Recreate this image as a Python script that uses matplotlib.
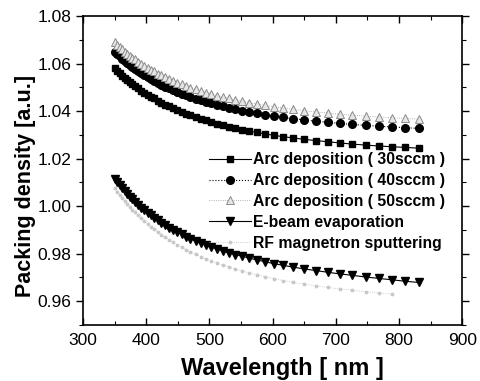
import matplotlib
matplotlib.use("Agg")
import matplotlib.pyplot as plt
from matplotlib.ticker import MultipleLocator

plt.rcParams['font.family'] = ['Liberation Sans', 'DejaVu Sans']

# wavelength grid (nm)
wavelength = [350, 354, 358, 362, 366, 370, 374, 378, 382, 387, 392, 397, 402, 407,
              412, 418, 424, 430, 436, 442, 449, 456, 463, 470, 478, 486, 494, 503,
              512, 521, 531, 541, 552, 563, 575, 588, 602, 617, 633, 650, 668, 687,
              706, 726, 747, 768, 789, 810, 831]

arc_30 = [1.0580, 1.0569, 1.0559, 1.0549, 1.0540, 1.0531, 1.0522, 1.0514, 1.0505,
          1.0496, 1.0486, 1.0477, 1.0469, 1.0461, 1.0453, 1.0444, 1.0435, 1.0427,
          1.0420, 1.0412, 1.0404, 1.0396, 1.0389, 1.0382, 1.0374, 1.0367, 1.0361,
          1.0354, 1.0347, 1.0341, 1.0334, 1.0328, 1.0322, 1.0316, 1.0310, 1.0304,
          1.0298, 1.0292, 1.0287, 1.0281, 1.0276, 1.0271, 1.0266, 1.0261, 1.0257,
          1.0253, 1.0250, 1.0247, 1.0244]

arc_40 = [1.0650, 1.0640, 1.0630, 1.0621, 1.0611, 1.0603, 1.0594, 1.0586, 1.0578,
          1.0569, 1.0560, 1.0551, 1.0543, 1.0535, 1.0528, 1.0519, 1.0511, 1.0503,
          1.0496, 1.0489, 1.0481, 1.0473, 1.0466, 1.0460, 1.0452, 1.0446, 1.0439,
          1.0432, 1.0426, 1.0420, 1.0414, 1.0408, 1.0402, 1.0396, 1.0390, 1.0385,
          1.0379, 1.0373, 1.0368, 1.0363, 1.0357, 1.0353, 1.0348, 1.0344, 1.0340,
          1.0336, 1.0333, 1.0330, 1.0327]

arc_50 = [1.0689, 1.0679, 1.0669, 1.0660, 1.0650, 1.0642, 1.0633, 1.0625, 1.0617,
          1.0608, 1.0599, 1.0590, 1.0582, 1.0574, 1.0567, 1.0558, 1.0550, 1.0542,
          1.0535, 1.0528, 1.0520, 1.0512, 1.0505, 1.0499, 1.0491, 1.0485, 1.0478,
          1.0471, 1.0465, 1.0459, 1.0453, 1.0447, 1.0441, 1.0435, 1.0429, 1.0424,
          1.0418, 1.0412, 1.0407, 1.0402, 1.0396, 1.0392, 1.0387, 1.0383, 1.0379,
          1.0375, 1.0372, 1.0369, 1.0366]

ebeam = [1.0115, 1.0101, 1.0088, 1.0075, 1.0063, 1.0051, 1.0040, 1.0029, 1.0018,
         1.0006, 0.9994, 0.9983, 0.9972, 0.9962, 0.9952, 0.9940, 0.9930, 0.9920,
         0.9910, 0.9901, 0.9891, 0.9881, 0.9872, 0.9863, 0.9854, 0.9845, 0.9837,
         0.9828, 0.9820, 0.9812, 0.9804, 0.9796, 0.9789, 0.9781, 0.9774, 0.9766,
         0.9758, 0.9751, 0.9743, 0.9736, 0.9729, 0.9722, 0.9715, 0.9709, 0.9702,
         0.9696, 0.9690, 0.9684, 0.9679]

rf_sputter = [1.0075, 1.0061, 1.0047, 1.0034, 1.0021, 1.0009, 0.9997, 0.9985, 0.9974,
              0.9961, 0.9949, 0.9937, 0.9925, 0.9914, 0.9904, 0.9891, 0.9880, 0.9869,
              0.9859, 0.9849, 0.9838, 0.9827, 0.9817, 0.9808, 0.9798, 0.9788, 0.9779,
              0.9770, 0.9761, 0.9752, 0.9744, 0.9735, 0.9727, 0.9719, 0.9711, 0.9703,
              0.9695, 0.9687, 0.9679, 0.9672, 0.9665, 0.9658, 0.9652, 0.9646, 0.9640,
              0.9635, 0.9630]

labels = ["Arc deposition ( 30sccm )", "Arc deposition ( 40sccm )",
          "Arc deposition ( 50sccm )", "E-beam evaporation", "RF magnetron sputtering"]

fig = plt.figure(figsize=(4.8, 3.81), dpi=100)
ax = fig.add_axes([0.173, 0.147, 0.790, 0.811])

ax.plot(wavelength, arc_30, color='black', lw=0.8, ls='-', marker='s', ms=5,
        label=labels[0])
ax.plot(wavelength, arc_40, color='black', lw=0.8, ls=':', marker='o', ms=5.5,
        label=labels[1])
ax.plot(wavelength, arc_50, color='#9a9a9a', lw=0.6, ls=':', marker='^', ms=5.5,
        mfc='#e6e6e6', mec='#8a8a8a', mew=0.7, label=labels[2])
ax.plot(wavelength, ebeam, color='black', lw=0.8, ls='-', marker='v', ms=6,
        label=labels[3])
ax.plot(wavelength[:len(rf_sputter)], rf_sputter, color='#bdbdbd', lw=0.6, ls=':',
        marker='.', ms=3.5, mfc='#c8c8c8', mec='#c8c8c8', label=labels[4])

ax.set_xlim(300, 900)
ax.set_ylim(0.95, 1.08)
ax.xaxis.set_major_locator(MultipleLocator(100))
ax.xaxis.set_minor_locator(MultipleLocator(50))
ax.yaxis.set_major_locator(MultipleLocator(0.02))
ax.yaxis.set_minor_locator(MultipleLocator(0.01))
ax.yaxis.set_major_formatter(matplotlib.ticker.FormatStrFormatter('%.2f'))

ax.tick_params(axis='x', which='both', direction='in', top=True, labelsize=12.5, pad=6)
ax.tick_params(axis='y', which='both', direction='out', right=True, labelsize=12.5)
ax.tick_params(which='major', length=5, width=1)
ax.tick_params(which='minor', length=3, width=0.8)
for s in ax.spines.values():
    s.set_linewidth(1.2)

ax.set_xlabel("Wavelength [ nm ]", fontsize=17, fontweight='bold')
ax.set_ylabel("Packing density [a.u.]", fontsize=15.5, fontweight='bold')
ax.xaxis.set_label_coords(0.525, -0.105)
ax.yaxis.set_label_coords(-0.125, 0.45)

leg = ax.legend(loc='upper left', bbox_to_anchor=(0.315, 0.58), frameon=False,
                prop={'size': 11.3, 'weight': 'bold'}, handlelength=2.7,
                handletextpad=0.15, labelspacing=0.38, borderaxespad=0)

fig.savefig("out.png", dpi=100)
